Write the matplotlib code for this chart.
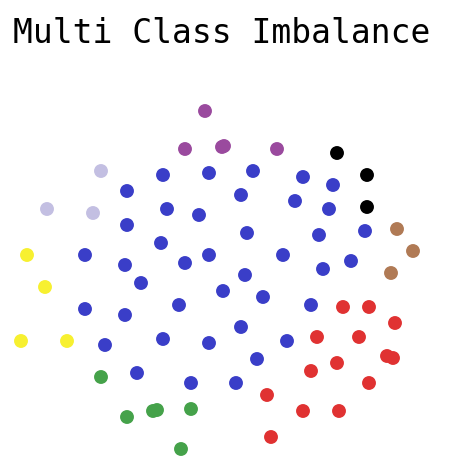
import matplotlib
matplotlib.use("Agg")
import matplotlib.pyplot as plt

title = "Multi Class Imbalance"

blue_x = [163, 209, 253, 303, 333, 127, 241, 295, 329, 167, 199, 127, 247, 319, 365, 161, 85, 209, 185, 283,
          125, 351, 323, 245, 141, 223, 263, 179, 85, 311, 125, 241, 163, 209, 287, 105, 257, 137, 191, 236]
blue_y = [175, 173, 171, 177, 185, 191, 195, 201, 209, 209, 215, 225, 233, 235, 231, 243, 255, 255, 263, 255,
          265, 261, 269, 275, 283, 291, 297, 305, 309, 305, 315, 327, 339, 343, 341, 345, 359, 373, 383, 383]

red_x = [343, 369, 395, 317, 359, 387, 393, 337, 311, 369, 267, 303, 339, 271]
red_y = [307, 307, 323, 337, 337, 356, 358, 363, 371, 383, 395, 411, 411, 437]

green_x = [101, 127, 153, 157, 191, 181]
green_y = [377, 417, 411, 410, 409, 449]

yellow_x = [27, 45, 21, 67]
yellow_y = [255, 287, 341, 341]

lavender_x = [101, 47, 93]
lavender_y = [171, 209, 213]

purple_x = [205, 185, 222, 224, 277]
purple_y = [111, 149, 147, 146, 149]

black_x = [337, 367, 367]
black_y = [153, 175, 207]

brown_x = [397, 413, 391]
brown_y = [229, 251, 273]

classes = [
    (blue_x, blue_y, "#3a3ec8"),
    (red_x, red_y, "#e03232"),
    (green_x, green_y, "#45a24a"),
    (yellow_x, yellow_y, "#f7f030"),
    (lavender_x, lavender_y, "#c3bfe2"),
    (purple_x, purple_y, "#9a4a9e"),
    (black_x, black_y, "#000000"),
    (brown_x, brown_y, "#b07a55"),
]

fig = plt.figure(figsize=(4.64, 4.70), dpi=100)
ax = fig.add_axes([0, 0, 1, 1])
ax.set_xlim(0, 464)
ax.set_ylim(470, 0)
ax.axis("off")

for xs, ys, c in classes:
    ax.scatter(xs, ys, s=100, color=c, edgecolors="none")

fig.text(13 / 464, 1 - 17 / 470, title, family="DejaVu Sans Mono", fontsize=23.8,
         fontweight="normal", ha="left", va="top", color="black")

fig.savefig("out.png", dpi=100, facecolor="white")
